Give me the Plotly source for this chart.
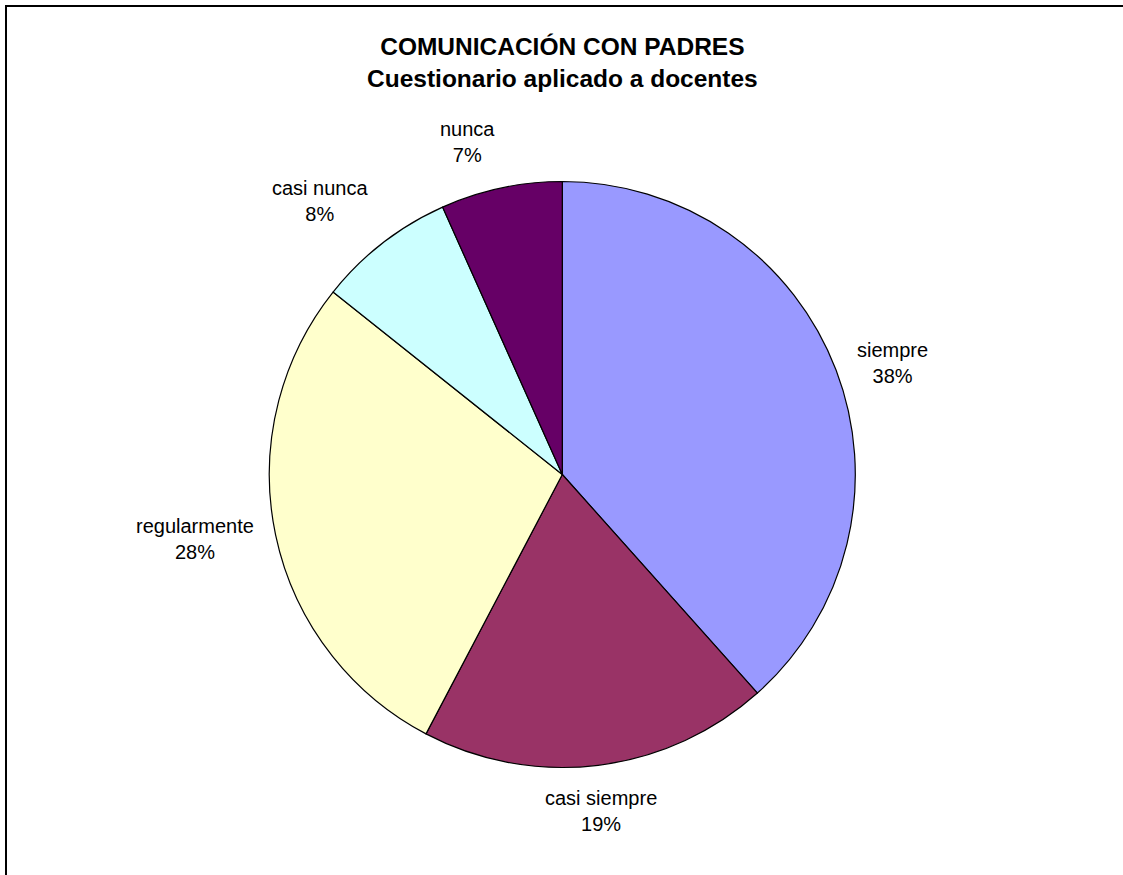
import numpy as np
import plotly.graph_objects as go

# ---- data ----
categories = ["siempre", "casi siempre", "regularmente", "casi nunca", "nunca"]
values = [38.4, 19.3, 28.0, 7.6, 6.7]
colors = ["#9999FF", "#993366", "#FFFFCC", "#CCFFFF", "#660066"]
title_lines = ["COMUNICACIÓN CON PADRES", "Cuestionario aplicado a docentes"]

# ---- layout geometry (pixels) ----
W, H = 1123, 875
cx, cy = 562.3, 474.5
R = 293
label_dist = 313
FONT = "Liberation Sans, Arial, sans-serif"

fig = go.Figure()
fig.add_trace(go.Pie(
    labels=categories,
    values=values,
    sort=False,
    direction="clockwise",
    rotation=0,
    textinfo="none",
    hoverinfo="label+percent",
    marker=dict(colors=colors, line=dict(color="black", width=1.2)),
    domain=dict(x=[(cx - R) / W, (cx + R) / W],
                y=[1 - (cy + R) / H, 1 - (cy - R) / H]),
    showlegend=False,
))

# labels placed outside slices, computed from the data
vals = np.array(values, dtype=float)
frac = vals / vals.sum()
cum = np.cumsum(frac) - frac / 2
annotations = []
for name, f, mid in zip(categories, frac, cum):
    theta = 2 * np.pi * mid
    ux, uy = np.sin(theta), np.cos(theta)
    px = cx + label_dist * ux
    py = cy - label_dist * uy
    xa = "left" if ux > 0.15 else ("right" if ux < -0.15 else "center")
    ya = "bottom" if uy > 0.4 else ("top" if uy < -0.4 else "middle")
    annotations.append(dict(
        x=px / W, y=1 - py / H, xref="paper", yref="paper",
        text=f"{name}<br>{int(round(f * 100))}%",
        showarrow=False, xanchor=xa, yanchor=ya, align="center",
        font=dict(family=FONT, size=20, color="black"),
    ))

annotations.append(dict(
    x=cx / W, y=1 - 63 / H, xref="paper", yref="paper",
    text="<br>".join(f"<b>{t}</b>" for t in title_lines),
    showarrow=False, xanchor="center", yanchor="middle", align="center",
    font=dict(family=FONT, size=24.5, color="black"),
))

fig.update_layout(
    width=W, height=H,
    margin=dict(l=0, r=0, t=0, b=0),
    paper_bgcolor="white", plot_bgcolor="white",
    annotations=annotations,
    shapes=[dict(type="rect", xref="paper", yref="paper",
                 x0=6 / W, x1=1.02, y0=-0.02, y1=1 - 6 / H,
                 line=dict(color="black", width=2))],
)

fig.write_html(
    "out.html",
    config={"displayModeBar": False},
    post_script="document.body.style.margin='0';document.body.style.overflow='hidden';",
)
